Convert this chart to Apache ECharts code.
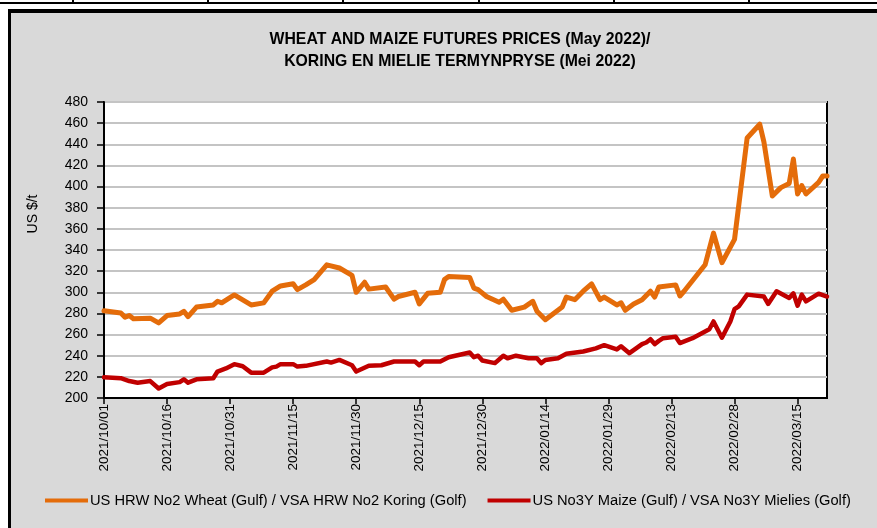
<!DOCTYPE html>
<html>
<head>
<meta charset="utf-8">
<script src="https://cdn.jsdelivr.net/npm/echarts@6/dist/echarts.min.js"></script>
<style>
  html, body { margin: 0; padding: 0; background: #fff; }
  #chart { width: 877px; height: 528px; }
</style>
</head>
<body>
<div id="chart"></div>
<script>
// Wheat: US HRW No2 (Gulf), US$/t
const wheatDates = [
  '2021-10-01', '2021-10-05', '2021-10-06', '2021-10-07', '2021-10-08', '2021-10-12',
  '2021-10-14', '2021-10-16', '2021-10-19', '2021-10-20', '2021-10-21', '2021-10-23',
  '2021-10-27', '2021-10-28', '2021-10-29', '2021-11-01', '2021-11-05', '2021-11-08',
  '2021-11-10', '2021-11-12', '2021-11-15', '2021-11-16', '2021-11-18', '2021-11-20',
  '2021-11-23', '2021-11-26', '2021-11-29', '2021-11-30', '2021-12-02', '2021-12-03',
  '2021-12-07', '2021-12-09', '2021-12-10', '2021-12-14', '2021-12-15', '2021-12-17',
  '2021-12-20', '2021-12-21', '2021-12-22', '2021-12-27', '2021-12-28', '2021-12-29',
  '2021-12-31', '2022-01-03', '2022-01-04', '2022-01-06', '2022-01-09', '2022-01-11',
  '2022-01-12', '2022-01-14', '2022-01-18', '2022-01-19', '2022-01-21', '2022-01-23',
  '2022-01-25', '2022-01-27', '2022-01-28', '2022-01-31', '2022-02-01', '2022-02-02',
  '2022-02-04', '2022-02-06', '2022-02-08', '2022-02-09', '2022-02-10', '2022-02-14',
  '2022-02-15', '2022-02-16', '2022-02-21', '2022-02-23', '2022-02-25', '2022-02-28',
  '2022-03-03', '2022-03-06', '2022-03-07', '2022-03-09', '2022-03-11', '2022-03-13',
  '2022-03-14', '2022-03-15', '2022-03-16', '2022-03-17', '2022-03-20', '2022-03-21',
  '2022-03-22'
];
const wheatValues = [
  282.5, 280.5, 276.5, 278, 275, 275.5,
  271, 278, 279.5, 282, 277, 286,
  288, 291.5, 290, 297.5, 288, 290,
  301, 306, 308, 302.5, 307, 312,
  326, 323, 316, 300, 309.5, 303,
  305, 293.5, 296, 300, 289, 299,
  300, 312, 315, 314, 304, 302.5,
  296, 290.5, 293.5, 283, 286, 291.5,
  282, 274, 286, 295.5, 293, 301,
  308, 293, 295.5, 288, 290, 283,
  289, 293, 301, 295.5, 305, 307,
  296.5, 301, 326, 356, 328, 350,
  446, 459, 442, 391, 399, 403,
  426, 393, 401, 393, 404, 410,
  410
];

// Maize: US No3Y (Gulf), US$/t
const maizeDates = [
  '2021-10-01', '2021-10-05', '2021-10-07', '2021-10-09', '2021-10-12', '2021-10-14',
  '2021-10-16', '2021-10-19', '2021-10-20', '2021-10-21', '2021-10-23', '2021-10-27',
  '2021-10-28', '2021-10-30', '2021-11-01', '2021-11-03', '2021-11-05', '2021-11-08',
  '2021-11-10', '2021-11-11', '2021-11-12', '2021-11-15', '2021-11-16', '2021-11-18',
  '2021-11-23', '2021-11-24', '2021-11-26', '2021-11-29', '2021-11-30', '2021-12-03',
  '2021-12-06', '2021-12-09', '2021-12-14', '2021-12-15', '2021-12-16', '2021-12-20',
  '2021-12-22', '2021-12-27', '2021-12-28', '2021-12-29', '2021-12-30', '2022-01-02',
  '2022-01-04', '2022-01-05', '2022-01-07', '2022-01-10', '2022-01-12', '2022-01-13',
  '2022-01-14', '2022-01-17', '2022-01-19', '2022-01-23', '2022-01-26', '2022-01-28',
  '2022-01-31', '2022-02-01', '2022-02-03', '2022-02-06', '2022-02-07', '2022-02-08',
  '2022-02-09', '2022-02-10', '2022-02-11', '2022-02-14', '2022-02-15', '2022-02-18',
  '2022-02-22', '2022-02-23', '2022-02-25', '2022-02-27', '2022-02-28', '2022-03-01',
  '2022-03-03', '2022-03-07', '2022-03-08', '2022-03-10', '2022-03-13', '2022-03-14',
  '2022-03-15', '2022-03-16', '2022-03-17', '2022-03-20', '2022-03-22'
];
const maizeValues = [
  219.6, 218.7, 216, 214.5, 216, 209,
  213.3, 215, 217.7, 214.5, 217.7, 218.7,
  225, 228, 232, 230, 224, 224,
  229, 229.7, 232, 232, 229.7, 230.4,
  234.5, 233.5, 236, 231, 225, 230.5,
  231, 234.5, 234.5, 231, 234.5, 234.5,
  238.6, 243, 238.6, 240, 235.4, 233,
  240, 237.6, 240, 237.6, 237.6, 233,
  236, 237.6, 241.8, 244, 247, 250,
  246, 249, 242.4, 251, 252.5, 255.6,
  251, 254, 256.6, 258, 252, 256.6,
  265, 272.4, 257, 272.4, 284, 286.7,
  297.8, 296, 289, 301, 294.6, 299,
  287.3, 297.8, 291.4, 298.7, 296
];

const yTicks = [200, 220, 240, 260, 280, 300, 320, 340, 360, 380, 400, 420, 440, 460, 480];
const startDate = '2021-10-01';
const endDate = '2022-03-22';
const tickDays = 15;

const baseMs = Date.UTC(2021, 9, 1);
function dayIndex(s) {
  const p = s.split('-');
  return (Date.UTC(+p[0], +p[1] - 1, +p[2]) - baseMs) / 86400000;
}
function dayLabel(d) {
  const t = new Date(baseMs + d * 86400000);
  const mm = String(t.getUTCMonth() + 1).padStart(2, '0');
  const dd = String(t.getUTCDate()).padStart(2, '0');
  return t.getUTCFullYear() + '/' + mm + '/' + dd;
}
function pairs(dates, vals) {
  return dates.map((d, i) => [dayIndex(d), vals[i]]);
}

const FONT = "'Liberation Sans', Arial, sans-serif";

const chart = echarts.init(document.getElementById('chart'), null, { renderer: 'canvas' });
chart.setOption({
  backgroundColor: '#ffffff',
  animation: false,
  graphic: [
    // table strip above the chart
    { type: 'rect', z: -20, shape: { x: 0, y: 2, width: 877, height: 2 }, style: { fill: '#000' } },
    ...[72, 207, 342, 478, 613, 748].map(x => ({
      type: 'rect', z: -20, shape: { x: x, y: 0, width: 2, height: 4 }, style: { fill: '#000' }
    })),
    // chart frame
    { type: 'rect', z: -20, shape: { x: 8, y: 9, width: 900, height: 600 }, style: { fill: '#000' } },
    { type: 'rect', z: -19, shape: { x: 11, y: 13, width: 900, height: 600 }, style: { fill: '#d9d9d9' } },
    // title, slightly condensed like the original
    {
      type: 'text', z: 10, x: 460, y: 39, scaleX: 0.93,
      style: {
        text: 'WHEAT AND MAIZE FUTURES PRICES (May 2022)/',
        fill: '#000', font: 'bold 17px ' + FONT, align: 'center', verticalAlign: 'middle'
      }
    },
    {
      type: 'text', z: 10, x: 460, y: 61, scaleX: 0.93,
      style: {
        text: 'KORING EN MIELIE TERMYNPRYSE (Mei 2022)',
        fill: '#000', font: 'bold 17px ' + FONT, align: 'center', verticalAlign: 'middle'
      }
    },
    {
      type: 'text', z: 10, x: 33, y: 214, rotation: Math.PI / 2,
      style: { text: 'US $/t', fill: '#000', font: '14px ' + FONT, align: 'center', verticalAlign: 'middle' }
    }
  ],
  legend: {
    left: 45,
    top: 493,
    padding: 0,
    icon: 'rect',
    itemWidth: 43,
    itemHeight: 4,
    itemGap: 21,
    textStyle: { fontFamily: FONT, fontSize: 14.7, color: '#000', padding: [0, 0, 0, -3] },
    data: ['US HRW No2 Wheat (Gulf) / VSA HRW No2 Koring (Golf)', 'US No3Y Maize (Gulf) / VSA No3Y Mielies (Golf)']
  },
  grid: {
    left: 104,
    right: 50,
    top: 102,
    bottom: 130,
    show: true,
    backgroundColor: '#ffffff',
    borderColor: '#000',
    borderWidth: 2
  },
  xAxis: {
    type: 'value',
    min: dayIndex(startDate),
    max: dayIndex(endDate),
    interval: tickDays,
    axisLine: { show: true, lineStyle: { color: '#000', width: 2 } },
    axisTick: { show: true, inside: false, length: 6, lineStyle: { color: '#000', width: 1.5 } },
    splitLine: { show: false },
    axisLabel: {
      rotate: 90,
      margin: 6,
      showMaxLabel: false,
      fontFamily: FONT,
      fontSize: 13.5,
      color: '#000',
      formatter: v => (v % tickDays === 0 ? dayLabel(v) : '')
    }
  },
  yAxis: {
    type: 'value',
    min: yTicks[0],
    max: yTicks[yTicks.length - 1],
    interval: yTicks[1] - yTicks[0],
    axisLine: { show: true, lineStyle: { color: '#000', width: 2 } },
    axisTick: { show: true, inside: false, length: 7, lineStyle: { color: '#000', width: 1.5 } },
    splitLine: { show: true, lineStyle: { color: '#c4c4c4', width: 2 } },
    axisLabel: { fontFamily: FONT, fontSize: 14, color: '#000', margin: 16 }
  },
  series: [
    {
      name: 'US HRW No2 Wheat (Gulf) / VSA HRW No2 Koring (Golf)',
      type: 'line',
      data: pairs(wheatDates, wheatValues),
      symbol: 'none',
      color: '#e46c0a',
      lineStyle: { color: '#e46c0a', width: 5, join: 'round', cap: 'round' }
    },
    {
      name: 'US No3Y Maize (Gulf) / VSA No3Y Mielies (Golf)',
      type: 'line',
      data: pairs(maizeDates, maizeValues),
      symbol: 'none',
      color: '#c00000',
      lineStyle: { color: '#c00000', width: 4.5, join: 'round', cap: 'round' }
    }
  ]
});
</script>
</body>
</html>
